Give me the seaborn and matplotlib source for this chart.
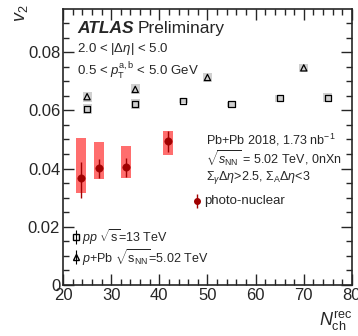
import matplotlib
matplotlib.use("Agg")
import matplotlib.pyplot as plt
from matplotlib.ticker import MultipleLocator
import numpy as np
import pandas as pd
import seaborn as sns

# photo-nuclear Pb+Pb
pn_nch = [23.7, 27.5, 33.1, 41.8]
pn_v2 = [0.0366, 0.0401, 0.0406, 0.0494]
pn_stat_lo = [0.0068, 0.0035, 0.0034, 0.0038]
pn_stat_hi = [0.0057, 0.0031, 0.0031, 0.0035]
pn_sys_lo = [0.0051, 0.0036, 0.0037, 0.0048]
pn_sys_hi = [0.0140, 0.0091, 0.0071, 0.0035]

# pp 13 TeV
pp_nch = [25, 35, 45, 55, 65, 75]
pp_v2 = [0.0604, 0.0621, 0.0633, 0.0621, 0.0642, 0.0643]
pp_sys = [0.0017, 0.0017, 0.0008, 0.0008, 0.0012, 0.0015]

# p+Pb 5.02 TeV
ppb_nch = [25, 35, 50, 70]
ppb_v2 = [0.0647, 0.0672, 0.0713, 0.0746]
ppb_sys = [0.0017, 0.0017, 0.0015, 0.0013]

sns.set_style("ticks")
plt.rcParams['font.family'] = ['Liberation Sans', 'DejaVu Sans']
plt.rcParams['mathtext.fontset'] = 'custom'
plt.rcParams['mathtext.rm'] = 'Liberation Sans'
plt.rcParams['mathtext.it'] = 'Liberation Sans:italic'
plt.rcParams['mathtext.bf'] = 'Liberation Sans:bold'

fig = plt.figure(figsize=(3.58, 3.36), dpi=100)
ax = fig.add_axes([0.176, 0.152, 0.807, 0.821])

red_box = "#ff6e6e"
dark_red = "#a00000"
gray_box = "#d0d0d0"

# systematic boxes
pn_lo = np.array(pn_v2) - np.array(pn_sys_lo)
pn_h = np.array(pn_sys_lo) + np.array(pn_sys_hi)
ax.bar(pn_nch, pn_h, bottom=pn_lo, width=2.2, color=red_box, edgecolor='none', zorder=1)
ax.bar(pp_nch, 2 * np.array(pp_sys), bottom=np.array(pp_v2) - np.array(pp_sys),
       width=1.9, color=gray_box, edgecolor='none', zorder=1)
ax.bar(ppb_nch, 2 * np.array(ppb_sys), bottom=np.array(ppb_v2) - np.array(ppb_sys),
       width=1.9, color=gray_box, edgecolor='none', zorder=1)

# stat errors
ax.errorbar(pn_nch, pn_v2, yerr=[pn_stat_lo, pn_stat_hi], fmt='none',
            ecolor=dark_red, elinewidth=1.0, capsize=0, zorder=2)

df_pn = pd.DataFrame({'nch': pn_nch, 'v2': pn_v2})
df_pp = pd.DataFrame({'nch': pp_nch, 'v2': pp_v2})
df_ppb = pd.DataFrame({'nch': ppb_nch, 'v2': ppb_v2})

sns.scatterplot(data=df_pn, x='nch', y='v2', ax=ax, marker='o', s=28,
                color=dark_red, edgecolor=dark_red, zorder=3, legend=False)
sns.scatterplot(data=df_pp, x='nch', y='v2', ax=ax, marker='s', s=20,
                facecolor='none', edgecolor='black', linewidth=0.9, zorder=3, legend=False)
sns.scatterplot(data=df_ppb, x='nch', y='v2', ax=ax, marker='^', s=20,
                facecolor='none', edgecolor='black', linewidth=0.9, zorder=3, legend=False)

ax.set_xlim(20, 80)
ax.set_ylim(0, 0.0948)
ax.xaxis.set_major_locator(MultipleLocator(10))
ax.xaxis.set_minor_locator(MultipleLocator(2))
ax.yaxis.set_minor_locator(MultipleLocator(0.005))
ax.set_yticks([0, 0.02, 0.04, 0.06, 0.08])
ax.set_yticklabels(['0', '0.02', '0.04', '0.06', '0.08'])
ax.tick_params(which='both', direction='in', top=True, right=True, labelsize=12, pad=2, width=1)
ax.tick_params(which='major', length=8)
ax.tick_params(which='minor', length=4)
for sp in ax.spines.values():
    sp.set_linewidth(1.2)
ax.set_xlabel('')
ax.set_ylabel('')

fig.text(0.985, 0.01, r'$N_{\rm ch}^{\rm rec}$', ha='right', va='bottom', fontsize=13)
fig.text(0.035, 0.985, r'$v_{2}$', ha='left', va='top', fontsize=13, rotation=90)

atl = ax.text(0.05, 0.93, 'ATLAS', transform=ax.transAxes, fontsize=12.5,
              fontweight='bold', fontstyle='italic', va='center')
fig.canvas.draw()
bb = atl.get_window_extent().transformed(ax.transAxes.inverted())
ax.text(bb.x1 + 0.012, 0.93, 'Preliminary', transform=ax.transAxes, fontsize=12.5, va='center')
ax.text(0.05, 0.855, r'2.0 < |$\Delta\eta$| < 5.0', transform=ax.transAxes, fontsize=9.5, va='center')
ax.text(0.05, 0.775, r'0.5 < $p_{\rm T}^{\rm a,b}$ < 5.0 GeV', transform=ax.transAxes, fontsize=9.5, va='center')

ax.text(0.495, 0.525, r'Pb+Pb 2018, 1.73 nb$^{-1}$', transform=ax.transAxes, fontsize=9, va='center')
ax.text(0.495, 0.455, r'$\sqrt{s_{\rm NN}}$ = 5.02 TeV, 0nXn', transform=ax.transAxes, fontsize=9, va='center')
ax.text(0.495, 0.39, r'$\Sigma_{\gamma}\Delta\eta$>2.5, $\Sigma_{\rm A}\Delta\eta$<3', transform=ax.transAxes, fontsize=9, va='center')

ax.errorbar([0.465], [0.303], yerr=[0.025], transform=ax.transAxes, fmt='o', ms=4,
            color=dark_red, elinewidth=1, capsize=0)
ax.text(0.49, 0.303, 'photo-nuclear', transform=ax.transAxes, fontsize=9.5, va='center')

ax.errorbar([0.045], [0.175], yerr=[0.025], transform=ax.transAxes, fmt='s', ms=4,
            mfc='none', mec='black', color='black', elinewidth=0.8, capsize=0)
ax.text(0.065, 0.175, r'$pp$ $\sqrt{\rm s}$=13 TeV', transform=ax.transAxes, fontsize=9, va='center')
ax.errorbar([0.045], [0.1], yerr=[0.025], transform=ax.transAxes, fmt='^', ms=4,
            mfc='none', mec='black', color='black', elinewidth=0.8, capsize=0)
ax.text(0.065, 0.1, r'$p$+Pb $\sqrt{\rm s_{NN}}$=5.02 TeV', transform=ax.transAxes, fontsize=9, va='center')

fig.savefig('out.png', dpi=100)
